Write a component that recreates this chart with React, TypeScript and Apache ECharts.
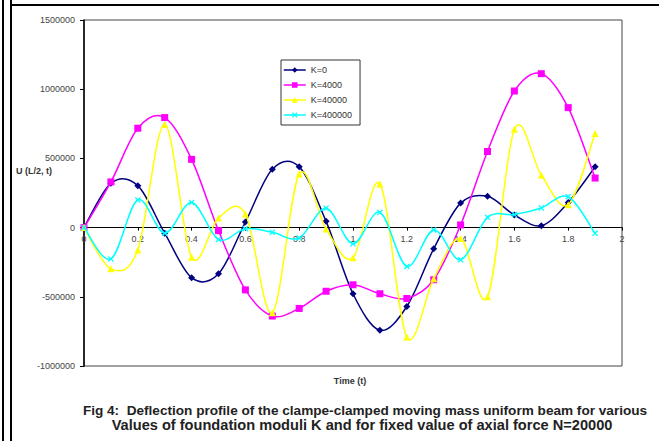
import React, { useEffect, useRef } from "react";
import * as echarts from "echarts";

const times = [0, 0.1, 0.2, 0.3, 0.4, 0.5, 0.6, 0.7, 0.8, 0.9, 1.0, 1.1, 1.2, 1.3, 1.4, 1.5, 1.6, 1.7, 1.8, 1.9];
const k0 = [0, 320000, 303000, -40000, -362000, -334000, 40000, 422000, 439000, 45000, -478000, -742000, -570000, -153000, 177000, 226000, 91000, 14000, 182000, 439000];
const k4000 = [0, 330000, 718000, 795000, 493000, -22000, -450000, -639000, -584000, -460000, -413000, -478000, -512000, -377000, 19000, 550000, 987000, 1112000, 867000, 358000];
const k40000 = [0, -298000, -161000, 745000, -214000, 70000, 99000, -615000, 387000, -10000, -218000, 315000, -790000, -370000, -78000, -500000, 711000, 380000, 166000, 680000];
const k400000 = [0, -226000, 200000, -41000, 182000, -86000, -8000, -34000, -75000, 140000, -117000, 110000, -281000, -17000, -232000, 74000, 94000, 142000, 223000, -41000];

const seriesNames = ["K=0", "K=4000", "K=40000", "K=400000"];
const seriesColors = ["#000080", "#FF00FF", "#FFFF00", "#00FFFF"];
const yName = "U (L/2, t)";
const xName = "Time (t)";
const captionLine1 = "Fig 4:  Deflection profile of the clampe-clamped moving mass uniform beam for various";
const captionLine2 = "Values of foundation moduli K and for fixed value of axial force N=20000";

const FONT = "'Liberation Sans', Arial, sans-serif";
const X_SYMBOL = "path://M0,1.5L1.5,0L5,3.5L8.5,0L10,1.5L6.5,5L10,8.5L8.5,10L5,6.5L1.5,10L0,8.5L3.5,5Z";

function curveSeries(vals: number[], color: string, idx: number) {
  return {
    type: "custom",
    name: seriesNames[idx] + " curve",
    data: times.slice(0, -1).map((t, j) => [t, vals[j]]),
    encode: { x: 0, y: 1 },
    silent: true,
    z: 2 + idx * 2,
    renderItem: (params: any, api: any) => {
      const j = params.dataIndex;
      const pt = (k: number) => {
        const kk = Math.max(0, Math.min(times.length - 1, k));
        return api.coord([times[kk], vals[kk]]);
      };
      const p0 = pt(j - 1);
      const p1 = pt(j);
      const p2 = pt(j + 1);
      const p3 = pt(j + 2);
      const f = 1 / 6;
      return {
        type: "bezierCurve",
        shape: {
          x1: p1[0],
          y1: p1[1],
          x2: p2[0],
          y2: p2[1],
          cpx1: p1[0] + (p2[0] - p0[0]) * f,
          cpy1: p1[1] + (p2[1] - p0[1]) * f,
          cpx2: p2[0] - (p3[0] - p1[0]) * f,
          cpy2: p2[1] - (p3[1] - p1[1]) * f,
        },
        style: { stroke: color, lineWidth: 1.5, fill: null },
      };
    },
  };
}

export default function App() {
  const ref = useRef<HTMLDivElement>(null);
  useEffect(() => {
    const chart = echarts.init(ref.current!, null, { renderer: "svg" });
    const allData = [k0, k4000, k40000, k400000];
    const symbols = ["diamond", "rect", "triangle", X_SYMBOL];
    const sizes = [7, 7, 7, 6];
    const zeroY = 20 + (346 * 1500000) / 2500000;
    chart.setOption({
      animation: false,
      backgroundColor: "#ffffff",
      textStyle: { fontFamily: FONT },
      grid: {
        left: 84,
        top: 20,
        width: 538,
        height: 346,
        show: true,
        borderColor: "#444",
        borderWidth: 1,
        backgroundColor: "transparent",
      },
      xAxis: {
        type: "value",
        min: 0,
        max: 2,
        interval: 0.2,
        position: "bottom",
        offset: -(366 - zeroY),
        axisLine: { onZero: false, lineStyle: { color: "#000", width: 1.2 } },
        axisTick: { show: true, inside: false, length: 3, lineStyle: { color: "#000" } },
        axisLabel: { fontSize: 9, color: "#444", margin: 7, fontFamily: FONT },
        splitLine: { show: false },
      },
      yAxis: {
        type: "value",
        min: -1000000,
        max: 1500000,
        interval: 500000,
        axisLine: { show: true, onZero: false, lineStyle: { color: "#000", width: 1.5 } },
        axisTick: { show: true, inside: false, length: 4, lineStyle: { color: "#000" } },
        axisLabel: {
          fontSize: 9,
          color: "#444",
          margin: 9,
          fontFamily: FONT,
          formatter: (v: number) => String(v),
        },
        splitLine: { show: false },
      },
      legend: {
        show: true,
        orient: "vertical",
        left: 281,
        top: 60,
        padding: [5, 8, 5, 2],
        itemWidth: 22,
        itemHeight: 7,
        itemGap: 5,
        borderColor: "#333",
        borderWidth: 1,
        backgroundColor: "#fff",
        lineStyle: { opacity: 1, width: 1.5 },
        textStyle: { fontSize: 9, color: "#333", lineHeight: 10, fontFamily: FONT },
        data: seriesNames.map((n, i) => ({
          name: n,
          lineStyle: { opacity: 1, width: 1.5, color: seriesColors[i] },
        })),
      },
      series: [
        ...seriesNames.map((_, i) => curveSeries(allData[i], seriesColors[i], i)),
        ...seriesNames.map((name, i) => ({
          name,
          type: "line",
          smooth: false,
          data: times.map((t, j) => [t, allData[i][j]]),
          symbol: symbols[i],
          symbolSize: sizes[i],
          showSymbol: true,
          lineStyle: { color: seriesColors[i], width: 1.5, opacity: 0 },
          itemStyle: { color: seriesColors[i], borderWidth: 0 },
          z: 3 + i * 2,
        })),
      ],
      graphic: [
        { type: "rect", shape: { x: 2, y: 0, width: 2, height: 441 }, style: { fill: "#000" }, silent: true },
        { type: "rect", shape: { x: 10, y: 0, width: 2, height: 441 }, style: { fill: "#000" }, silent: true },
        { type: "rect", shape: { x: 10, y: 4, width: 649, height: 2 }, style: { fill: "#000" }, silent: true },
        {
          type: "text",
          left: 16,
          top: 166,
          style: { text: yName, fontSize: 9, fontWeight: "bold", fill: "#333", fontFamily: FONT },
        },
        {
          type: "text",
          x: 350,
          y: 381,
          style: { text: xName, fontSize: 9, fontWeight: "bold", fill: "#333", fontFamily: FONT, align: "center", verticalAlign: "middle" },
        },
        {
          type: "text",
          x: 365,
          y: 410,
          style: { text: captionLine1, fontSize: 13.6, fontWeight: "bold", fill: "#222", fontFamily: FONT, align: "center", verticalAlign: "middle" },
        },
        {
          type: "text",
          x: 362,
          y: 425,
          style: { text: captionLine2, fontSize: 14.6, fontWeight: "bold", fill: "#222", fontFamily: FONT, align: "center", verticalAlign: "middle" },
        },
      ],
    });
    return () => chart.dispose();
  }, []);
  return (
    <div
      ref={ref}
      style={{ position: "absolute", left: 0, top: 0, width: 659, height: 441, background: "#fff" }}
    />
  );
}
